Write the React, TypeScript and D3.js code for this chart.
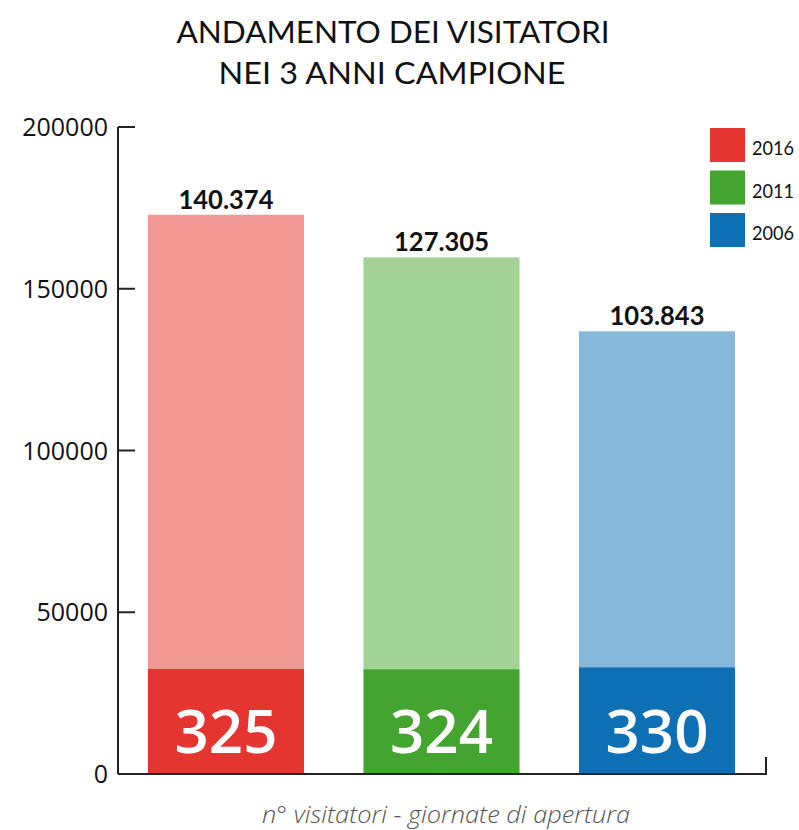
import React from "react";
import * as d3 from "d3";

const years = ["2016", "2011", "2006"];
const visitors = [140374, 127305, 103843];
const visitorLabels = ["140.374", "127.305", "103.843"];
const days = [325, 324, 330];
const yTicks = [0, 50000, 100000, 150000, 200000];
const darkColors = ["#E53530", "#43A42F", "#0E70B4"];
const lightColors = ["#F19894", "#A2D296", "#86B8DB"];
const legendYears = ["2016", "2011", "2006"];

export default function App() {
  const W = 799, H = 830;
  const y = d3.scaleLinear().domain([0, 200000]).range([774, 127]);
  const x = d3.scaleBand().domain(years).range([118, 765]).paddingInner(0.276).paddingOuter(0.139);
  const daysScale = (d: number) => d * 100;
  const font = "Lato, 'Open Sans', sans-serif";
  return (
    <svg width={W} height={H} style={{ position: "absolute", left: 0, top: 0 }}>
      <rect width={W} height={H} fill="#fff" />
      <text x={393} y={43} textAnchor="middle" fontFamily={font} fontSize={30} fill="#111" textLength={433} lengthAdjust="spacingAndGlyphs">ANDAMENTO DEI VISITATORI</text>
      <text x={392} y={84} textAnchor="middle" fontFamily={font} fontSize={30} fill="#111" textLength={347} lengthAdjust="spacingAndGlyphs">NEI 3 ANNI CAMPIONE</text>
      {years.map((yr, i) => {
        const bx = x(yr)!;
        const bw = x.bandwidth();
        const d0 = daysScale(days[i]);
        const top = d0 + visitors[i];
        return (
          <g key={yr}>
            <rect x={bx} y={y(top)} width={bw} height={y(d0) - y(top)} fill={lightColors[i]} />
            <rect x={bx} y={y(d0)} width={bw} height={y(0) - y(d0)} fill={darkColors[i]} />
            <text x={bx + bw / 2} y={y(top) - 6} textAnchor="middle" fontFamily={font} fontWeight="bold" fontSize={26} fill="#111" textLength={95} lengthAdjust="spacingAndGlyphs">{visitorLabels[i]}</text>
            <text x={bx + bw / 2} y={753} textAnchor="middle" fontFamily="'Open Sans', sans-serif" fontWeight={600} fontSize={60} fill="#fff">{days[i]}</text>
          </g>
        );
      })}
      <line x1={118} y1={127} x2={118} y2={774} stroke="#222" strokeWidth={2} />
      <path d="M118,774 H766 V757" fill="none" stroke="#222" strokeWidth={2} />
      {yTicks.map(t => (
        <g key={t}>
          <line x1={118} x2={135} y1={y(t)} y2={y(t)} stroke="#222" strokeWidth={2} />
          <text x={108} y={y(t) + 9} textAnchor="end" fontFamily="'Open Sans', sans-serif" fontSize={25} fill="#111">{t}</text>
        </g>
      ))}
      {legendYears.map((ly, i) => (
        <g key={ly}>
          <rect x={710} y={128 + i * 42.5} width={35} height={34} fill={darkColors[i]} />
          <text x={752} y={155 + i * 42.5} fontFamily={font} fontSize={20} fill="#111" textLength={42} lengthAdjust="spacingAndGlyphs">{ly}</text>
        </g>
      ))}
      <text x={446} y={823} textAnchor="middle" fontFamily="'Open Sans', sans-serif" fontStyle="italic" fontWeight={300} fontSize={23} fill="#555" textLength={368} lengthAdjust="spacingAndGlyphs">n° visitatori - giornate di apertura</text>
    </svg>
  );
}
